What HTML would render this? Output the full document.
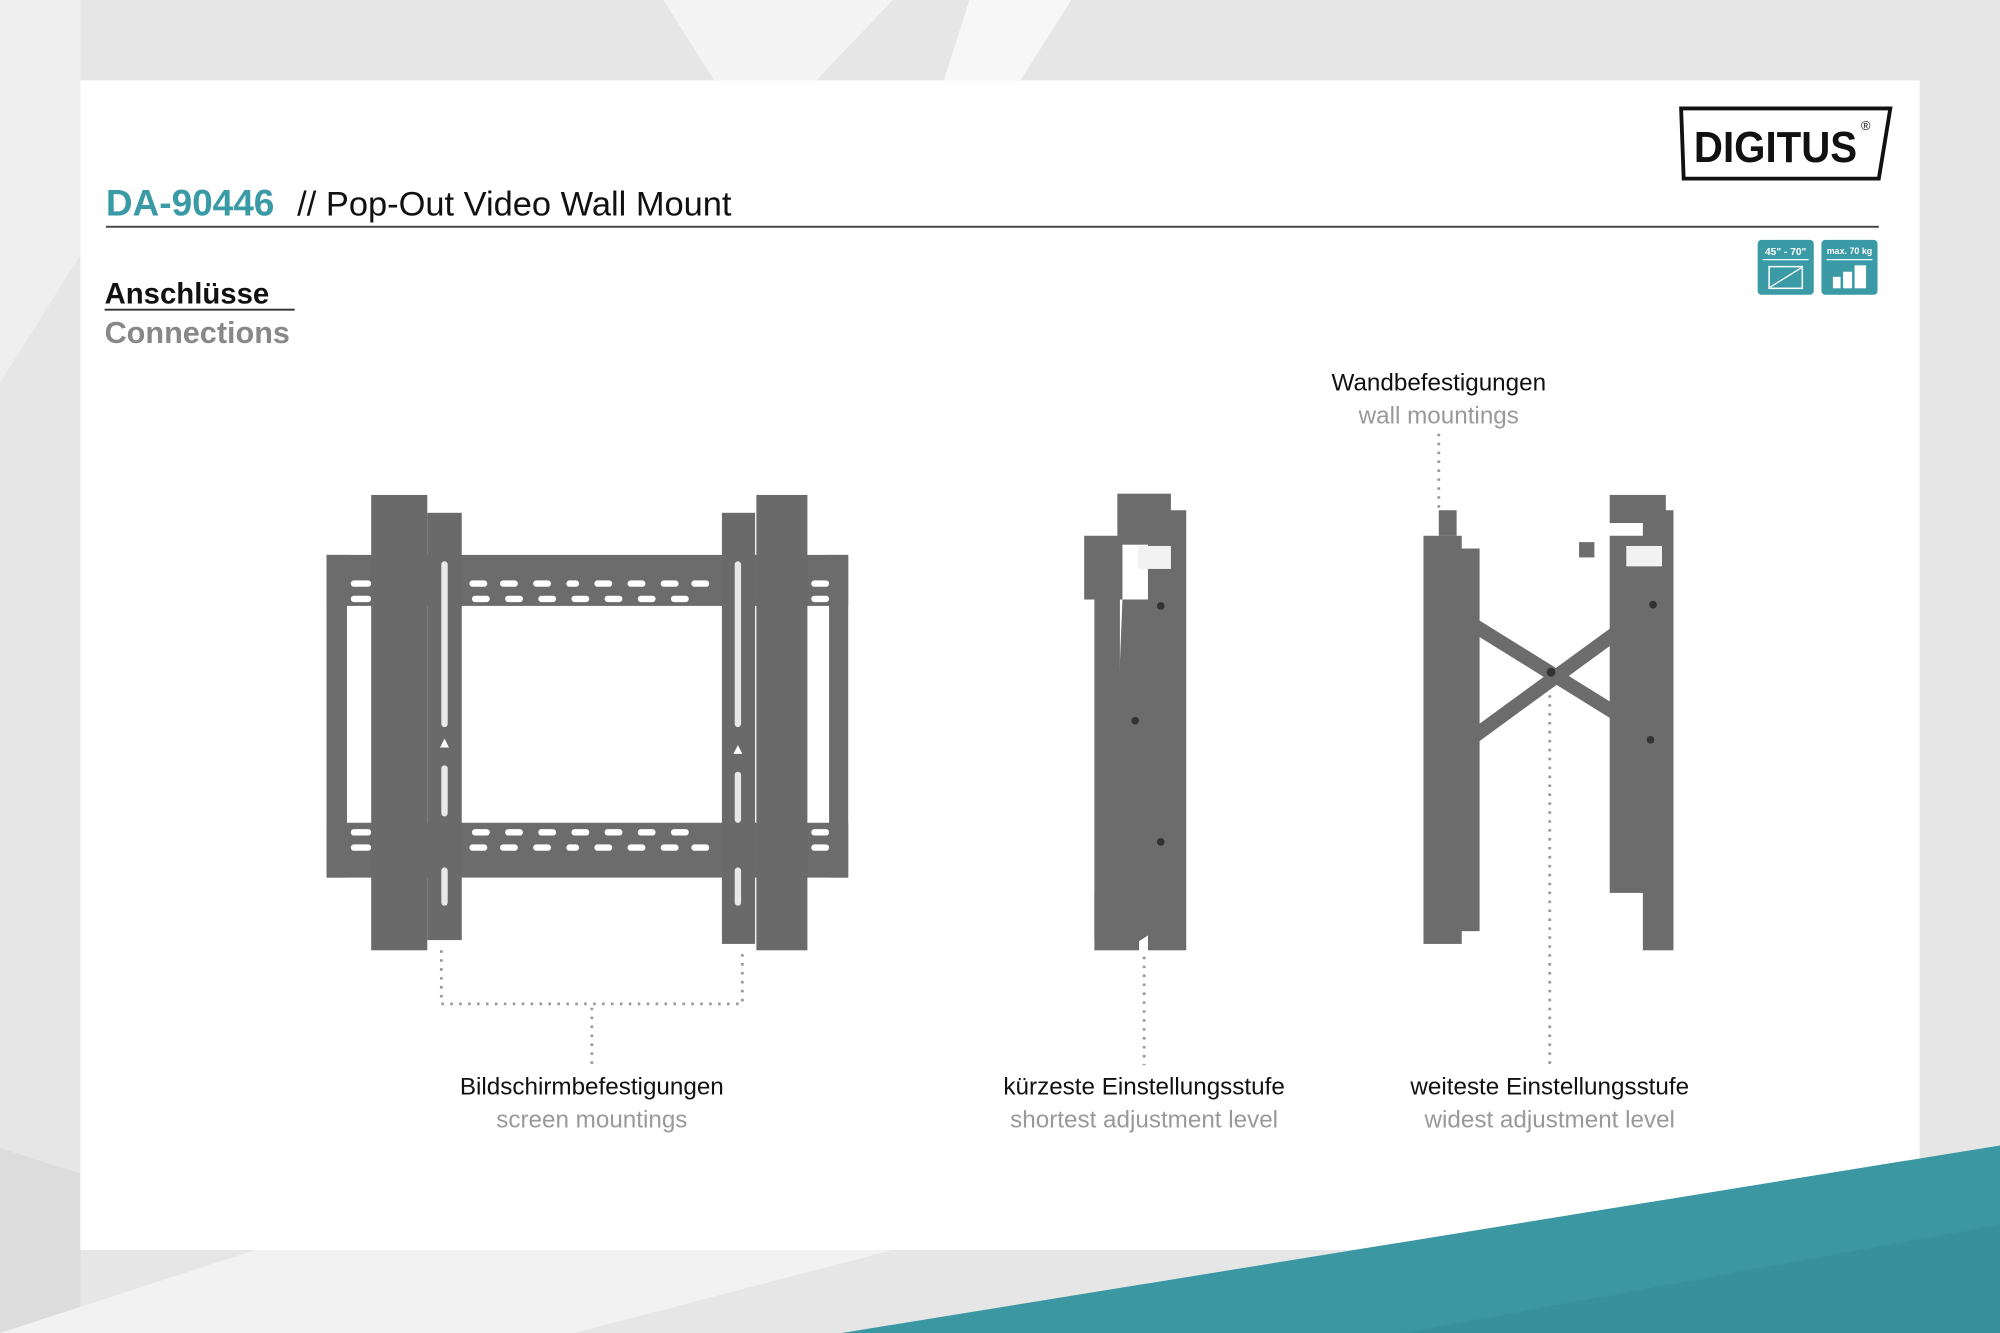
<!DOCTYPE html>
<html><head><meta charset="utf-8"><style>
html,body{margin:0;padding:0;width:2000px;height:1333px;overflow:hidden;background:#e9e9e9}
svg{display:block}
</style></head><body>
<svg width="2000" height="1333" viewBox="0 0 1568 1045" xmlns="http://www.w3.org/2000/svg" font-family="Liberation Sans, sans-serif">
<rect width="1568" height="1045" fill="#e6e6e6"/>
<polygon points="520,0 700,0 640,63 560,63" fill="#f4f4f4"/>
<polygon points="760,0 840,0 800,63 740,63" fill="#f7f7f7"/>
<polygon points="0,900 63,920 63,1045 0,1045" fill="#dcdcdc"/>
<polygon points="200,980 700,980 450,1045 0,1045" fill="#f2f2f2"/>
<polygon points="0,0 63,0 63,200 0,300" fill="#efefef"/>
<rect x="63" y="63" width="1442" height="917" fill="#fff"/>
<polygon points="660,1045 1568,898 1568,1045" fill="#3b97a2"/>
<polygon points="1100,1045 1568,960 1568,1045" fill="#358a95" opacity="0.5"/>

<!-- header -->
<text x="83" y="169" font-size="29" font-weight="bold" fill="#3a9aa6">DA-90446</text>
<text x="233" y="169" font-size="27" fill="#111">//  Pop-Out Video Wall Mount</text>
<rect x="83" y="177" width="1390" height="1.5" fill="#444"/>
<text x="82" y="238" font-size="23" font-weight="bold" fill="#111">Anschlüsse</text>
<rect x="82" y="242" width="149" height="1.5" fill="#333"/>
<text x="82" y="269" font-size="24" font-weight="bold" fill="#888">Connections</text>

<!-- logo -->
<polygon points="1318,85 1482,85 1473,140 1320,140" fill="#fff" stroke="#111" stroke-width="3"/>
<text x="1328" y="127" font-size="34" font-family="Liberation Sans Narrow, Liberation Sans, sans-serif" font-weight="bold" fill="#111" textLength="128" lengthAdjust="spacingAndGlyphs">DIGITUS</text>
<text x="1459" y="102" font-size="10" fill="#111">®</text>

<!-- icons -->
<rect x="1378" y="188" width="44" height="43" rx="3" fill="#3a9aa6"/>
<text x="1400" y="200" font-size="8" font-weight="bold" fill="#fff" text-anchor="middle">45" - 70"</text>
<rect x="1382" y="203" width="36" height="1" fill="#fff"/>
<rect x="1387" y="209" width="26" height="17" fill="none" stroke="#fff" stroke-width="1.2"/>
<line x1="1388" y1="225" x2="1412" y2="210" stroke="#fff" stroke-width="1"/>
<rect x="1428" y="188" width="44" height="43" rx="3" fill="#3a9aa6"/>
<text x="1450" y="199" font-size="7" font-weight="bold" fill="#fff" text-anchor="middle">max. 70 kg</text>
<rect x="1432" y="203" width="36" height="1" fill="#fff"/>
<rect x="1437" y="217" width="6" height="9" fill="#fff"/>
<rect x="1445" y="213" width="7" height="13" fill="#fff"/>
<rect x="1454" y="208" width="9" height="18" fill="#fff"/>

<!-- front mount -->
<g fill="#6c6c6c">
<rect x="256" y="435" width="409" height="40"/>
<rect x="256" y="645" width="409" height="43"/>
<rect x="256" y="435" width="16" height="253"/>
<rect x="650" y="435" width="15" height="253"/>
</g>
<g fill="#fff">
<rect x="275" y="455" width="16" height="5" rx="2.5"/><rect x="275" y="467" width="16" height="5" rx="2.5"/>
<rect x="636" y="455" width="14" height="5" rx="2.5"/><rect x="636" y="467" width="14" height="5" rx="2.5"/>
<rect x="275" y="650" width="16" height="5" rx="2.5"/><rect x="275" y="662" width="16" height="5" rx="2.5"/>
<rect x="636" y="650" width="14" height="5" rx="2.5"/><rect x="636" y="662" width="14" height="5" rx="2.5"/>
</g>
<g fill="#fff">
<rect x="368" y="455" width="14" height="5" rx="2.5"/><rect x="392" y="455" width="14" height="5" rx="2.5"/><rect x="418" y="455" width="14" height="5" rx="2.5"/><rect x="444" y="455" width="10" height="5" rx="2.5"/><rect x="466" y="455" width="14" height="5" rx="2.5"/><rect x="492" y="455" width="14" height="5" rx="2.5"/><rect x="518" y="455" width="14" height="5" rx="2.5"/><rect x="542" y="455" width="14" height="5" rx="2.5"/>
<rect x="370" y="467" width="14" height="5" rx="2.5"/><rect x="396" y="467" width="14" height="5" rx="2.5"/><rect x="422" y="467" width="14" height="5" rx="2.5"/><rect x="448" y="467" width="14" height="5" rx="2.5"/><rect x="474" y="467" width="14" height="5" rx="2.5"/><rect x="500" y="467" width="14" height="5" rx="2.5"/><rect x="526" y="467" width="14" height="5" rx="2.5"/>
<rect x="370" y="650" width="14" height="5" rx="2.5"/><rect x="396" y="650" width="14" height="5" rx="2.5"/><rect x="422" y="650" width="14" height="5" rx="2.5"/><rect x="448" y="650" width="14" height="5" rx="2.5"/><rect x="474" y="650" width="14" height="5" rx="2.5"/><rect x="500" y="650" width="14" height="5" rx="2.5"/><rect x="526" y="650" width="14" height="5" rx="2.5"/>
<rect x="368" y="662" width="14" height="5" rx="2.5"/><rect x="392" y="662" width="14" height="5" rx="2.5"/><rect x="418" y="662" width="14" height="5" rx="2.5"/><rect x="444" y="662" width="10" height="5" rx="2.5"/><rect x="466" y="662" width="14" height="5" rx="2.5"/><rect x="492" y="662" width="14" height="5" rx="2.5"/><rect x="518" y="662" width="14" height="5" rx="2.5"/><rect x="542" y="662" width="14" height="5" rx="2.5"/>
</g>
<g fill="#6a6a6a">
<rect x="335" y="402" width="27" height="335"/>
<rect x="566" y="402" width="26" height="338"/>
<rect x="291" y="388" width="44" height="357"/>
<rect x="593" y="388" width="40" height="357"/>
</g>
<g fill="#e8e8e8">
<rect x="346" y="440" width="5" height="130" rx="2.5"/>
<rect x="576" y="440" width="5" height="130" rx="2.5"/>
<rect x="346" y="600" width="5" height="40" rx="2.5"/>
<rect x="576" y="605" width="5" height="40" rx="2.5"/>
<rect x="346" y="680" width="5" height="30" rx="2.5"/>
<rect x="576" y="680" width="5" height="30" rx="2.5"/>
</g>
<polygon points="348.5,579 345,586 352,586" fill="#fff"/>
<polygon points="578.5,584 575,591 582,591" fill="#fff"/>

<!-- middle side view -->
<g fill="#6c6c6c">
<rect x="876" y="387" width="42" height="40"/>
<rect x="900" y="400" width="30" height="345"/>
<rect x="850" y="420" width="30" height="50"/>
<rect x="858" y="460" width="20" height="275"/>
<polygon points="880,470 905,470 905,730 890,740 870,720"/>
<rect x="858" y="700" width="35" height="45"/>
</g>
<rect x="892" y="428" width="26" height="18" fill="#f2f2f2"/>
<circle cx="910" cy="475" r="3" fill="#333"/><circle cx="890" cy="565" r="3" fill="#333"/><circle cx="910" cy="660" r="3" fill="#333"/>

<!-- right side view -->
<g fill="#6c6c6c">
<rect x="1116" y="420" width="30" height="320"/>
<rect x="1128" y="400" width="14" height="20"/>
<rect x="1140" y="430" width="20" height="300"/>
<rect x="1262" y="388" width="44" height="22"/>
<rect x="1288" y="400" width="24" height="345"/>
<rect x="1262" y="420" width="38" height="280"/>
<rect x="1238" y="425" width="12" height="12"/>
</g>
<g stroke="#6c6c6c" stroke-width="11">
<line x1="1152" y1="488" x2="1284" y2="570"/>
<line x1="1152" y1="580" x2="1278" y2="488"/>
</g>
<rect x="1275" y="428" width="28" height="16" fill="#f2f2f2"/>
<circle cx="1216" cy="527" r="3.5" fill="#333"/><circle cx="1296" cy="474" r="3" fill="#333"/><circle cx="1294" cy="580" r="3" fill="#333"/>

<!-- dotted connectors -->
<g stroke="#999" stroke-width="2.2" stroke-dasharray="2 5" fill="none">
<polyline points="346,745 346,787 582,787 582,745"/>
<line x1="464" y1="790" x2="464" y2="835"/>
<line x1="897" y1="750" x2="897" y2="835"/>
<line x1="1215" y1="545" x2="1215" y2="835"/>
<line x1="1128" y1="340" x2="1128" y2="400"/>
</g>

<!-- labels -->
<g font-size="19" text-anchor="middle">
<text x="1128" y="306" fill="#111">Wandbefestigungen</text>
<text x="1128" y="332" fill="#999">wall mountings</text>
<text x="464" y="858" fill="#111">Bildschirmbefestigungen</text>
<text x="464" y="884" fill="#999">screen mountings</text>
<text x="897" y="858" fill="#111">kürzeste Einstellungsstufe</text>
<text x="897" y="884" fill="#999">shortest adjustment level</text>
<text x="1215" y="858" fill="#111">weiteste Einstellungsstufe</text>
<text x="1215" y="884" fill="#999">widest adjustment level</text>
</g>
</svg>
</body></html>
